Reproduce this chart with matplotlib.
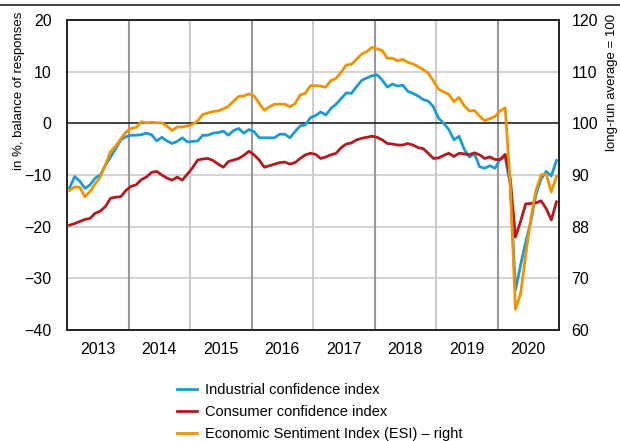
import numpy as np
import matplotlib
matplotlib.use("Agg")
import matplotlib.pyplot as plt
from matplotlib.lines import Line2D

plt.rcParams['font.family'] = ['Liberation Sans', 'DejaVu Sans']

# monthly data, Jan 2013 - Dec 2020
start_year = 2013
n_months = 96

industrial = [
    -12.5, -10.3, -11.2, -12.6, -11.9, -10.6, -10.0, -8.1, -6.5, -4.9, -3.2, -2.6,
    -2.3, -2.3, -2.2, -1.9, -2.2, -3.4, -2.7, -3.4, -3.9, -3.5, -2.8, -3.6,
    -3.5, -3.4, -2.3, -2.3, -1.9, -1.8, -1.5, -2.3, -1.4, -1.0, -1.9, -1.2,
    -1.6, -2.8, -2.8, -2.8, -2.8, -2.1, -2.1, -2.8, -1.6, -0.5, -0.3, 1.1,
    1.5, 2.2, 1.6, 2.9, 3.7, 4.8, 5.9, 5.8, 7.1, 8.3, 8.8, 9.2,
    9.4, 8.4, 7.0, 7.6, 7.2, 7.4, 6.2, 5.8, 5.3, 4.6, 4.3, 3.2,
    1.0, 0.0, -1.2, -3.2, -2.5, -5.0, -6.5, -5.9, -8.4, -8.7, -8.2, -8.7,
    -7.0, -6.5, -12.0, -32.3, -27.5, -23.0, -19.0, -13.8, -10.8, -9.3, -10.2, -7.2,
]

consumer = [
    -19.7, -19.4, -19.0, -18.6, -18.4, -17.4, -17.0, -16.1, -14.5, -14.3, -14.2, -13.0,
    -12.2, -11.9, -10.9, -10.4, -9.5, -9.3, -10.0, -10.6, -11.0, -10.4, -11.0, -9.8,
    -8.6, -7.1, -6.9, -6.8, -7.2, -7.9, -8.5, -7.4, -7.1, -6.8, -6.2, -5.4,
    -6.1, -7.1, -8.5, -8.2, -7.9, -7.6, -7.5, -7.9, -7.6, -6.8, -6.1, -5.8,
    -6.0, -6.8, -6.5, -6.1, -5.8, -4.7, -4.0, -3.8, -3.2, -2.9, -2.7, -2.5,
    -2.7, -3.2, -3.9, -4.0, -4.2, -4.2, -3.9, -4.2, -4.7, -4.9, -5.8, -6.8,
    -6.7, -6.2, -5.8, -6.4, -5.8, -5.9, -6.1, -5.7, -6.1, -6.8, -6.5, -7.0,
    -7.0, -6.0, -10.8, -22.0, -19.0, -15.6, -15.5, -15.4, -15.0, -16.5, -18.7, -15.2,
]

esi = [
    87.0, 87.7, 87.6, 85.8, 86.8, 88.3, 89.6, 92.0, 94.5, 95.6, 97.0, 98.3,
    99.0, 99.2, 100.3, 100.1, 100.2, 100.1, 100.1, 99.5, 98.6, 99.3, 99.3, 99.5,
    99.8, 100.5, 101.7, 102.0, 102.3, 102.4, 102.8, 103.3, 104.3, 105.2, 105.3, 105.7,
    105.3, 103.9, 102.5, 103.2, 103.7, 103.7, 103.7, 103.2, 103.8, 105.5, 105.8, 107.3,
    107.3, 107.2, 107.0, 108.3, 108.7, 109.9, 111.3, 111.4, 112.4, 113.4, 113.9, 114.7,
    114.4, 114.1, 112.6, 112.6, 112.1, 112.4, 111.8, 111.5, 111.0, 110.4, 109.7, 108.2,
    106.6, 106.1, 105.6, 104.2, 105.0, 103.4, 102.4, 102.5, 101.4, 100.5, 100.9, 101.3,
    102.4, 103.0, 88.0, 64.0, 67.0, 74.5, 81.5, 87.0, 90.0, 90.2, 86.7, 89.7,
]

years = list(range(2013, 2021))
left_ticks = [20, 10, 0, -10, -20, -30, -40]
right_ticks = [120, 110, 100, 90, 80, 70, 60]
right_labels = ["120", "110", "100", "90", "88", "70", "60"]

series_labels = ["Industrial confidence index", "Consumer confidence index",
                 "Economic Sentiment Index (ESI) \u2013 right"]
colors = ["#1a9ad6", "#b5191e", "#f39200"]

x = start_year + (np.arange(n_months) + 0.5) / 12

fig = plt.figure(figsize=(6.2, 4.41), dpi=100)
ax = fig.add_axes([67 / 620, 1 - 330 / 441, 492 / 620, 310 / 441])
ax2 = ax.twinx()

# grid
for v in left_ticks:
    if v == 0:
        ax.axhline(v, color="#222222", lw=1.2, zorder=1)
    else:
        ax.axhline(v, color="#cccccc", lw=1.2, zorder=0)
for k, yr in enumerate(years[1:]):
    c = "#999999" if k % 2 == 0 else "#cccccc"
    ax.axvline(yr, color=c, lw=1.5, zorder=0)

ax.plot(x, industrial, color=colors[0], lw=2.0, zorder=3)
ax.plot(x, consumer, color=colors[1], lw=2.0, zorder=3)
ax2.plot(x, esi, color=colors[2], lw=2.0, zorder=3)

ax.set_xlim(2013, 2021)
ax.set_ylim(-40, 20)
ax2.set_ylim(60, 120)

ax.set_xticks(years)
ax.set_xticklabels([])
ax.set_xticks([y + 0.5 for y in years], minor=True)
ax.set_xticklabels([str(y) for y in years], minor=True, fontsize=11.5)
ax.tick_params(axis="x", which="both", length=0, pad=9)
ax.set_yticks(left_ticks)
ax.set_yticklabels(["\u2212" + str(-v) if v < 0 else str(v) for v in left_ticks], fontsize=11.5)
ax.tick_params(axis="y", length=0, pad=11)
ax2.set_yticks(right_ticks)
ax2.set_yticklabels(right_labels, fontsize=11.5)
ax2.tick_params(axis="y", length=0, pad=9)

for a in (ax, ax2):
    for s in a.spines.values():
        s.set_linewidth(1.2)
        s.set_color("#222222")

ax.set_ylabel("in %, balance of responses", fontsize=9.5)
ax.yaxis.set_label_coords(-0.086, 0.77)
ax2.set_ylabel("long-run average = 100", fontsize=9.5)
ax2.yaxis.set_label_coords(1.095, 0.8)

handles = [Line2D([], [], color=c, lw=2.0) for c in colors]
fig.legend(handles, series_labels, loc="upper left",
           bbox_to_anchor=(177 / 620, 1 - 383 / 441), frameon=False,
           fontsize=10.5, handlelength=1.35, handletextpad=0.55,
           labelspacing=0.55, borderpad=0, borderaxespad=0)

fig.add_artist(Line2D([0, 1], [1 - 4.5 / 441, 1 - 4.5 / 441], color="#222222", lw=1.2))

fig.savefig("out.png", dpi=100)
